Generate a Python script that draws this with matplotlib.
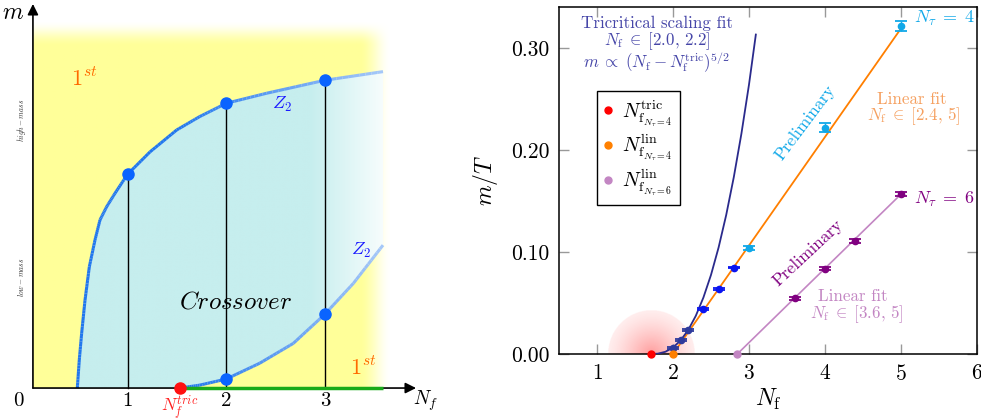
import numpy as np
import matplotlib
matplotlib.use('Agg')
import matplotlib.pyplot as plt
from matplotlib.collections import LineCollection
from matplotlib.patches import Polygon
from matplotlib.lines import Line2D
from matplotlib.colors import to_rgb
from matplotlib.ticker import FixedLocator, FormatStrFormatter

plt.rcParams['mathtext.fontset'] = 'cm'
plt.rcParams['font.family'] = ['cmr10', 'DejaVu Serif']
plt.rcParams['axes.formatter.use_mathtext'] = True

# ---- left panel: schematic (N_f, m) phase diagram
upper_nf = [0.49, 0.510, 0.534, 0.568, 0.612, 0.669, 0.720, 0.788, 0.872, 1.0,
            1.227, 1.498, 1.73, 2.0, 2.41, 3.0, 3.59]
upper_m = [0.0, 0.078, 0.152, 0.244, 0.337, 0.411, 0.467, 0.504, 0.541, 0.594,
           0.656, 0.717, 0.754, 0.791, 0.819, 0.855, 0.879]
lower_nf = [1.53, 1.73, 2.0, 2.34, 2.68, 3.0, 3.29, 3.59]
lower_m = [0.0, 0.008, 0.025, 0.069, 0.124, 0.205, 0.291, 0.397]
z2_up_nf = [1, 2, 3]
z2_up_m = [0.594, 0.791, 0.855]
z2_low_nf = [2, 3]
z2_low_m = [0.025, 0.205]
nf_tric_schem = 1.53
schem_ticks = [1, 2, 3]

# ---- right panel: lattice results
fit_tric_nf = [1.71, 1.8, 1.9, 2.0, 2.1, 2.2, 2.3, 2.4, 2.5, 2.6, 2.7, 2.8, 2.9, 3.0, 3.09]
fit_tric_m = [0.0, 0.0003, 0.0022, 0.0063, 0.0133, 0.0235, 0.0374, 0.0553, 0.0775,
              0.1044, 0.1362, 0.1733, 0.2158, 0.2640, 0.313]
nt4_fit_nf = [2.0, 2.1, 2.2]
nt4_fit_m = [0.0056, 0.0137, 0.0235]
nt4_fit_err = [0.0008, 0.0008, 0.0008]
nt4_mid_nf = [2.4, 2.6, 2.8]
nt4_mid_m = [0.0438, 0.0634, 0.0846]
nt4_mid_err = [0.0008, 0.0008, 0.0008]
nt4_hi_nf = [3.0, 4.0, 5.0]
nt4_hi_m = [0.1042, 0.2219, 0.3210]
nt4_hi_err = [0.002, 0.004, 0.005]
nt6_nf = [3.6, 4.0, 4.4, 5.0]
nt6_m = [0.0546, 0.0837, 0.1105, 0.1566]
nt6_err = [0.0015, 0.0015, 0.002, 0.002]
lin4_nf = [2.0, 5.0]
lin4_m = [0.0, 0.319]
lin6_nf = [2.846, 5.0]
lin6_m = [0.0, 0.1566]
nf_tric = 1.71
nf_lin4 = 2.0
nf_lin6 = 2.846

yellow = '#ffff99'
cyan = '#c6eeee'
zblue = '#2277ee'


def smooth(t):
    t = np.clip(t, 0, 1)
    return t * t * (3 - 2 * t)


def faded_line(ax, xs, ys, color, x0, x1, a0, a1, lw, z):
    # opaque line whose colour fades towards white along x
    segs, cols = [], []
    rgb = np.array(to_rgb(color))
    for i in range(len(xs) - 1):
        for k in range(10):
            f0, f1 = k / 10, (k + 1) / 10
            p0 = (xs[i] + f0 * (xs[i + 1] - xs[i]), ys[i] + f0 * (ys[i + 1] - ys[i]))
            p1 = (xs[i] + f1 * (xs[i + 1] - xs[i]), ys[i] + f1 * (ys[i + 1] - ys[i]))
            xm = 0.5 * (p0[0] + p1[0])
            a = a0 + (a1 - a0) * np.clip((xm - x0) / (x1 - x0), 0, 1)
            segs.append([p0, p1])
            cols.append(tuple(rgb * a + (1 - a)))
    lc = LineCollection(segs, colors=cols, linewidths=lw, zorder=z,
                        capstyle='butt', joinstyle='round')
    ax.add_collection(lc)


fig = plt.figure(figsize=(9.81, 4.19), dpi=100)

# ================= left panel =================
axL = fig.add_axes([0, 0, 440 / 981, 1])
axL.set_xlim(-0.294, 4.168)
axL.set_ylim(-0.086, 1.078)
axL.axis('off')

# yellow first-order background, blurred at top and right
gx = np.linspace(0.04, 3.75, 400)
gy = np.linspace(0, 1.05, 220)
X, Y = np.meshgrid(gx, gy)
img = np.zeros((len(gy), len(gx), 4))
img[..., :3] = to_rgb(yellow)
img[..., 3] = smooth((3.68 - X) / 0.33) * smooth((1.022 - Y) / 0.07)
axL.imshow(img, extent=[0.04, 3.75, 0, 1.05], origin='lower', aspect='auto',
           zorder=1, interpolation='bilinear')

# crossover region between the Z2 lines
verts = list(zip(upper_nf, upper_m)) + list(zip(lower_nf[::-1], lower_m[::-1]))
white_poly = Polygon(verts, closed=True, facecolor='white', edgecolor='none', zorder=2)
axL.add_patch(white_poly)
clip_poly = Polygon(verts, closed=True, facecolor='none', edgecolor='none')
axL.add_patch(clip_poly)
img2 = np.ones((len(gy), len(gx), 4))
t = np.clip((X - 2.85) / (3.59 - 2.85), 0, 1) * 0.85
c = np.array(to_rgb(cyan))
for i in range(3):
    img2[..., i] = c[i] * (1 - t) + t
cy = axL.imshow(img2, extent=[0.04, 3.75, 0, 1.05], origin='lower', aspect='auto',
                zorder=3, interpolation='bilinear')
cy.set_clip_path(clip_poly)

# Z2 lines
faded_line(axL, upper_nf, upper_m, zblue, 1.5, 3.6, 1.0, 0.4, 2.2, 4)
faded_line(axL, lower_nf, lower_m, zblue, 1.6, 3.6, 1.0, 0.4, 2.2, 4)

# vertical guides
for xv, mv in zip(z2_up_nf, z2_up_m):
    axL.plot([xv, xv], [0, mv], color='black', lw=1.0, zorder=4)

# axes arrows
axL.annotate('', xy=(3.925, 0), xytext=(0.04, 0),
             arrowprops=dict(arrowstyle='-|>', color='black', lw=1.2, mutation_scale=16,
                             shrinkA=0, shrinkB=0), zorder=5)
axL.annotate('', xy=(0.04, 1.067), xytext=(0.04, 0),
             arrowprops=dict(arrowstyle='-|>', color='black', lw=1.2, mutation_scale=16,
                             shrinkA=0, shrinkB=0), zorder=5)

axL.plot([nf_tric_schem, upper_nf[-1]], [0, 0], color='#1aaa1a', lw=2.5, zorder=6,
         solid_capstyle='butt')
axL.plot(z2_up_nf, z2_up_m, 'o', color='#0a64ff', ms=8, zorder=7)
axL.plot(z2_low_nf, z2_low_m, 'o', color='#0a64ff', ms=8, zorder=7)
axL.plot([nf_tric_schem], [0], 'o', color='#ff1010', ms=8, zorder=7, clip_on=False)

axL.text(-0.16, 1.042, r'$m$', fontsize=17, ha='center', va='center')
axL.text(-0.11, -0.036, '0', fontsize=15, ha='center', va='center')
for tk in schem_ticks:
    axL.text(tk, -0.036, str(tk), fontsize=15, ha='center', va='center')
axL.text(3.89, -0.036, r'$N_f$', fontsize=14, ha='left', va='center')
axL.text(nf_tric_schem, -0.052, r'$N_f^{tric}$', fontsize=12.5, color='#ff2020',
         ha='center', va='center')
axL.text(0.56, 0.861, r'$1^{st}$', fontsize=16, color='#ff6a00', ha='center', va='center')
axL.text(3.39, 0.058, r'$1^{st}$', fontsize=16, color='#ff6a00', ha='center', va='center')
axL.text(2.57, 0.789, r'$Z_2$', fontsize=13, color='#1a1aff', ha='center', va='center',
         zorder=8)
axL.text(3.37, 0.381, r'$Z_2$', fontsize=13, color='#1a1aff', ha='center', va='center',
         zorder=8)
axL.text(2.10, 0.239, r'$Crossover$', fontsize=18, ha='center', va='center', zorder=8)
axL.text(-0.08, 0.744, r'$high-mass$', fontsize=5.5, rotation=90, ha='center',
         va='center', color='#333333')
axL.text(-0.08, 0.308, r'$low-mass$', fontsize=5.5, rotation=90, ha='center',
         va='center', color='#333333')

# ================= right panel =================
axR = fig.add_axes([559 / 981, 65 / 419, 418 / 981, 347 / 419])

gx = np.linspace(-1, 1, 241)
GX, GY = np.meshgrid(gx, gx)
r = np.hypot(GX, GY)
glow = np.zeros((241, 241, 4))
glow[..., 0] = 1.0
glow[..., 1] = 0.3
glow[..., 2] = 0.3
glow[..., 3] = np.where(r < 1, 0.1 + 0.45 * (1 - r) ** 1.3, 0)
axR.imshow(glow, extent=[nf_tric - 0.566, nf_tric + 0.566, -0.0422, 0.0422],
           origin='lower', aspect='auto', zorder=0.5, interpolation='bilinear')

axR.plot(lin4_nf, lin4_m, color='#ff7f00', lw=1.3, zorder=2)
axR.plot(lin6_nf, lin6_m, color='#c386c3', lw=1.2, zorder=2)
axR.plot(fit_tric_nf, fit_tric_m, color='#2a2a8c', lw=1.3, zorder=3)

eb = dict(fmt='o', ms=4.5, capsize=4.5, elinewidth=1.0, capthick=1.3, zorder=4)
axR.errorbar(nt4_fit_nf, nt4_fit_m, yerr=nt4_fit_err, color='#2e3a9c', **eb)
axR.errorbar(nt4_mid_nf, nt4_mid_m, yerr=nt4_mid_err, color='#0a14f0', **eb)
axR.errorbar(nt4_hi_nf, nt4_hi_m, yerr=nt4_hi_err, color='#10a8e8', **eb)
axR.errorbar(nt6_nf, nt6_m, yerr=nt6_err, color='#800080', **eb)

axR.plot([nf_tric], [0], 'o', color='#ff0000', ms=5, zorder=6, clip_on=False)
axR.plot([nf_lin4], [0], 'o', color='#ff8000', ms=5, zorder=6, clip_on=False)
axR.plot([nf_lin6], [0], 'o', color='#c386c3', ms=5, zorder=6, clip_on=False)

axR.set_xlim(0.5, 6)
axR.set_ylim(0, 0.34)
axR.xaxis.set_major_locator(FixedLocator([1, 2, 3, 4, 5, 6]))
axR.yaxis.set_major_locator(FixedLocator([0.0, 0.1, 0.2, 0.3]))
axR.yaxis.set_major_formatter(FormatStrFormatter('%.2f'))
axR.tick_params(direction='in', top=True, right=True, length=7, width=1,
                color='#999999', labelsize=15.5, pad=7)
for sp in axR.spines.values():
    sp.set_linewidth(1.1)
axR.set_xlabel(r'$N_\mathrm{f}$', fontsize=17, labelpad=2)
axR.set_ylabel(r'$m/T$', fontsize=17, labelpad=8)

fs = 12.2
tc = '#4646a8'
axR.text(1.79, 0.3235, 'Tricritical scaling fit', color=tc, fontsize=fs, ha='center', va='center')
axR.text(1.79, 0.3062, r'$N_\mathrm{f}\;\in\;[2.0,\,2.2]$', color=tc, fontsize=fs,
         ha='center', va='center')
axR.text(1.79, 0.2855, r'$m\;\propto\;(N_\mathrm{f}-N_\mathrm{f}^\mathrm{tric})^{5/2}$', color=tc,
         fontsize=fs, ha='center', va='center')
axR.text(3.74, 0.2265, 'Preliminary', color='#10a8e8', fontsize=12.5, rotation=53,
         rotation_mode='anchor', ha='center', va='center')
axR.text(3.78, 0.099, 'Preliminary', color='#800080', fontsize=12.5, rotation=43,
         rotation_mode='anchor', ha='center', va='center')
axR.text(5.145, 0.25, 'Linear fit', color='#f5a060', fontsize=fs, ha='center', va='center')
axR.text(5.16, 0.2333, r'$N_\mathrm{f}\;\in\;[2.4,\,5]$', color='#f5a060', fontsize=fs,
         ha='center', va='center')
axR.text(4.37, 0.0568, 'Linear fit', color='#c386c3', fontsize=fs, ha='center', va='center')
axR.text(4.42, 0.0392, r'$N_\mathrm{f}\;\in\;[3.6,\,5]$', color='#c386c3', fontsize=fs,
         ha='center', va='center')
axR.text(5.17, 0.3284, r'$N_\tau\;=\;4$', color='#10a8e8', fontsize=13, ha='left', va='center',
         clip_on=False)
axR.text(5.17, 0.151, r'$N_\tau\;=\;6$', color='#800080', fontsize=13, ha='left', va='center',
         clip_on=False)

handles = [Line2D([], [], marker='o', ls='none', color='#ff0000', ms=5),
           Line2D([], [], marker='o', ls='none', color='#ff8000', ms=5),
           Line2D([], [], marker='o', ls='none', color='#c386c3', ms=5)]
labels = [r'$N_{\mathrm{f}_{N_\tau=4}}^{\mathrm{tric}}$',
          r'$N_{\mathrm{f}_{N_\tau=4}}^{\mathrm{lin}}$',
          r'$N_{\mathrm{f}_{N_\tau=6}}^{\mathrm{lin}}$']
leg = axR.legend(handles, labels, loc='upper left', bbox_to_anchor=(0.091, 0.758),
                 fontsize=14.5, frameon=True, fancybox=False, edgecolor='black',
                 framealpha=1, handlelength=0.4, handletextpad=0.5, labelspacing=0.2,
                 borderpad=0.35, borderaxespad=0)
leg.get_frame().set_linewidth(1.0)

fig.savefig('out.png', dpi=100)
